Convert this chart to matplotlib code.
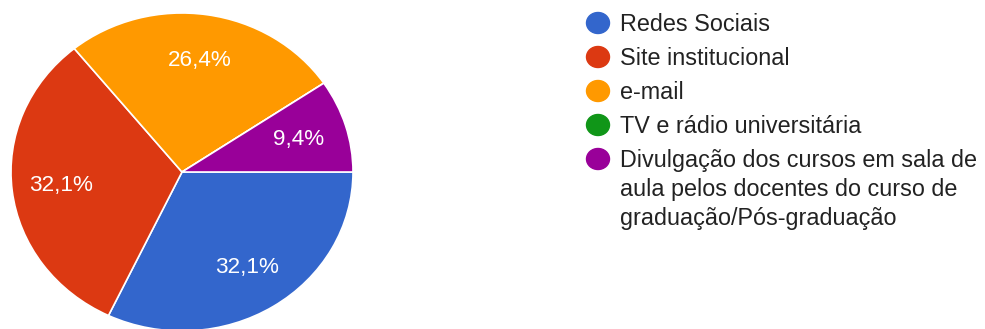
import matplotlib.pyplot as plt
from matplotlib.patches import Ellipse

plt.rcParams['font.family'] = ['Liberation Sans', 'DejaVu Sans']

# respostas por canal de divulgação
canais = ["Redes Sociais", "Site institucional", "e-mail",
          "TV e rádio universitária",
          "Divulgação dos cursos em sala de\naula pelos docentes do curso de\ngraduação/Pós-graduação"]
respostas = [17, 17, 14, 0, 5]
cores = ["#3366cc", "#dc3912", "#ff9900", "#109618", "#990099"]


def rotulo(pct):
    # sem rótulo para fatias vazias, decimal com vírgula
    if pct < 0.05:
        return ""
    return "{:.1f}%".format(pct).replace(".", ",")


fig = plt.figure(figsize=(9.85, 3.29), dpi=100)
W, H = 985.0, 329.0

# eixo da pizza (levemente achatado na vertical)
ax = fig.add_axes([11 / W, 1 - 331 / H, 342 / W, 318 / H])
wedges, textos, pcts = ax.pie(respostas, colors=cores, startangle=0, counterclock=False,
                              autopct=rotulo, pctdistance=0.71,
                              wedgeprops=dict(edgecolor="white", linewidth=1.2),
                              textprops=dict(color="white", fontsize=16.2))
ax.set_aspect("auto")
ax.set_xlim(-1, 1)
ax.set_ylim(-1, 1)
ax.axis("off")

# legenda desenhada à mão
leg = fig.add_axes([0, 0, 1, 1])
leg.set_xlim(0, W)
leg.set_ylim(H, 0)
leg.axis("off")

base = 31
for nome, cor in zip(canais, cores):
    linhas = nome.split("\n")
    leg.add_patch(Ellipse((598, base - 8), 23, 21, color=cor))
    for k, linha in enumerate(linhas):
        leg.text(620, base + 29 * k, linha, fontsize=16.8, color="#222222",
                 va="baseline", ha="left")
    base += 34 + 29 * (len(linhas) - 1)

fig.savefig("out.png", dpi=100)
